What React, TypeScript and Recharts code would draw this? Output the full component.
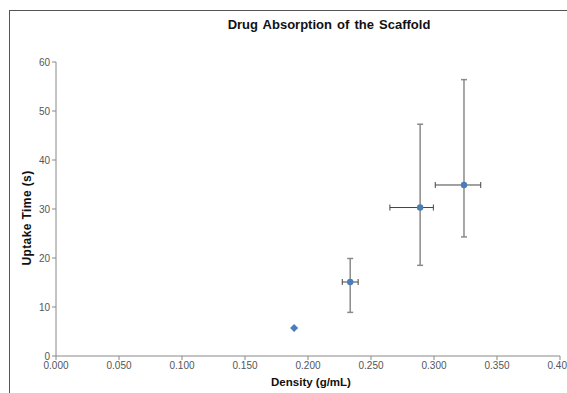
import React from "react";
import { ScatterChart, Scatter, XAxis, YAxis, ErrorBar } from "recharts";

// Density (g/mL) and uptake time (s) with asymmetric error ranges [low, high]
const densities = [0.189, 0.2335, 0.289, 0.3238];
const uptakeTimes = [5.7, 15.1, 30.3, 34.9];
const timeErrLow = [0, 6.2, 11.8, 10.6];
const timeErrHigh = [0, 4.8, 17.0, 21.5];
const densityErrLow = [0, 0.0063, 0.024, 0.0228];
const densityErrHigh = [0, 0.0063, 0.0105, 0.0133];

const xTicks = [0, 0.05, 0.1, 0.15, 0.2, 0.25, 0.3, 0.35, 0.4];
const yTicks = [0, 10, 20, 30, 40, 50, 60];

const data = densities.map((d, i) => ({
  x: d,
  y: uptakeTimes[i],
  xErr: [densityErrLow[i], densityErrHigh[i]],
  yErr: [timeErrLow[i], timeErrHigh[i]],
  hasErr: timeErrHigh[i] > 0,
}));

const font = "Arial, 'Liberation Sans', sans-serif";

const PointShape = (props: any) => {
  const { cx, cy, payload } = props;
  if (!payload.hasErr) {
    return (
      <polygon
        points={`${cx},${cy - 4} ${cx + 4},${cy} ${cx},${cy + 4} ${cx - 4},${cy}`}
        fill="#4a7ebb"
      />
    );
  }
  return <circle cx={cx} cy={cy} r={3.2} fill="#4a7ebb" />;
};

export default function App() {
  return (
    <div
      style={{
        position: "absolute",
        left: 0,
        top: 0,
        width: 567,
        height: 393,
        overflow: "hidden",
        background: "#fff",
        fontFamily: font,
      }}
    >
      <div
        style={{
          position: "absolute",
          left: 9,
          top: 10,
          width: 600,
          height: 420,
          border: "1px solid #555",
        }}
      />
      <div
        style={{
          position: "absolute",
          left: 0,
          width: 658,
          top: 17,
          textAlign: "center",
          fontSize: 13,
          fontWeight: "bold",
          wordSpacing: 1.5,
          color: "#111",
        }}
      >
        Drug Absorption of the Scaffold
      </div>
      <div
        style={{
          position: "absolute",
          left: 0,
          width: 622,
          top: 376,
          textAlign: "center",
          fontSize: 11.5,
          fontWeight: "bold",
          color: "#111",
        }}
      >
        Density (g/mL)
      </div>
      <div
        style={{
          position: "absolute",
          left: 27,
          top: 218,
          transform: "translate(-50%, -50%) rotate(-90deg)",
          whiteSpace: "nowrap",
          fontSize: 12,
          letterSpacing: 0.4,
          fontWeight: "bold",
          color: "#111",
        }}
      >
        Uptake Time (s)
      </div>
      <div style={{ position: "absolute", left: 0, top: 0 }}>
        <ScatterChart
          width={567}
          height={393}
          margin={{ top: 62, right: 7, bottom: 17, left: 26 }}
        >
          <XAxis
            type="number"
            dataKey="x"
            domain={[0, 0.4]}
            ticks={xTicks}
            tickFormatter={(v: number) => v.toFixed(3)}
            height={20}
            stroke="#888"
            tickSize={4}
            tick={{ fill: "#555", fontSize: 10, fontFamily: font }}
            interval={0}
            allowDataOverflow
          />
          <YAxis
            type="number"
            dataKey="y"
            domain={[0, 60]}
            ticks={yTicks}
            width={30}
            stroke="#888"
            tickSize={4}
            tick={{ fill: "#555", fontSize: 10, fontFamily: font }}
            interval={0}
          />
          <Scatter data={data} shape={PointShape} isAnimationActive={false}>
            <ErrorBar
              dataKey="yErr"
              direction="y"
              width={3}
              stroke="#8a8a8a"
              strokeWidth={1.5}
            />
            <ErrorBar
              dataKey="xErr"
              direction="x"
              width={3}
              stroke="#444"
              strokeWidth={1}
            />
          </Scatter>
        </ScatterChart>
      </div>
    </div>
  );
}
